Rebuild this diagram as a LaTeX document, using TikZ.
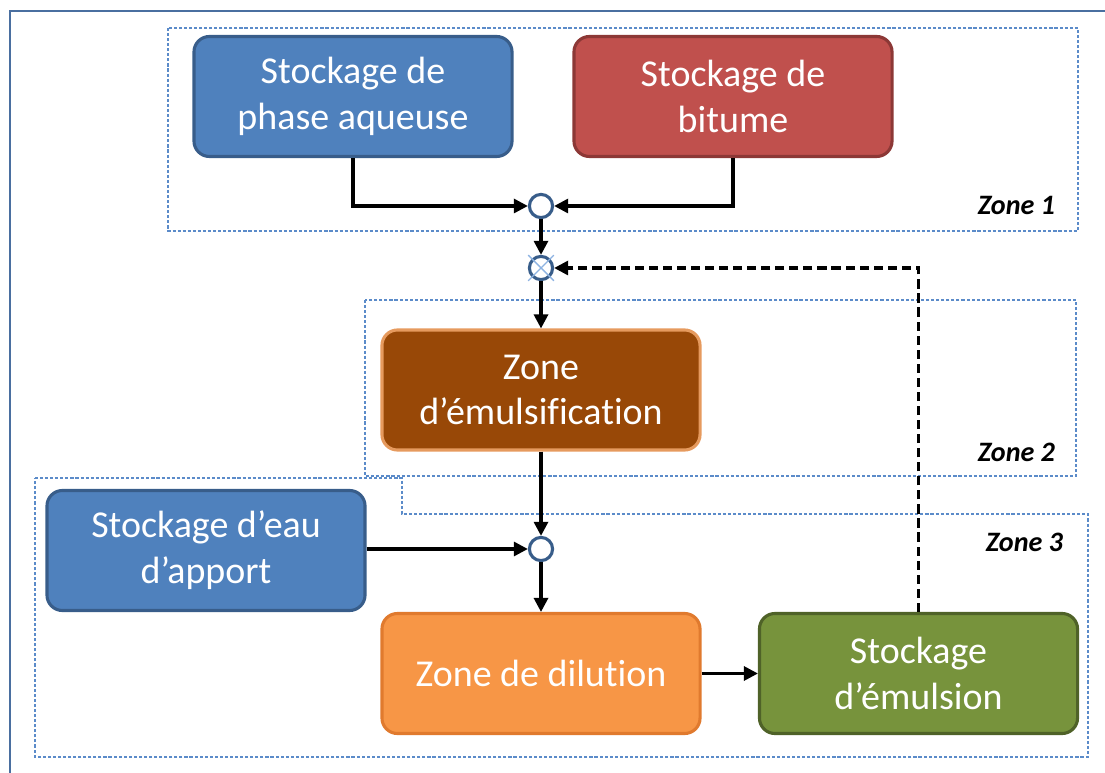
\documentclass[tikz,border=0pt]{standalone}
\usepackage{fontspec}
\setmainfont{Carlito}[Ligatures={TeX,NoCommon}]
\usetikzlibrary{arrows.meta}
\definecolor{bluefill}{HTML}{4F81BD}
\definecolor{blueline}{HTML}{385D8A}
\definecolor{redfill}{HTML}{C0504D}
\definecolor{redline}{HTML}{8C3836}
\definecolor{brownfill}{HTML}{984807}
\definecolor{brownline}{HTML}{E69A5E}
\definecolor{orangefill}{HTML}{F79646}
\definecolor{orangeline}{HTML}{E07A2E}
\definecolor{greenfill}{HTML}{77933C}
\definecolor{greenline}{HTML}{4F6228}
\definecolor{zoneline}{HTML}{5B8BC9}
\definecolor{frameline}{HTML}{4A6FA0}
\definecolor{crossline}{HTML}{8DB3E2}
\tikzset{
    mybox/.style = {rounded corners=11pt, line width=2.2pt, align=center, minimum width=7.95cm, minimum height=3.0cm,
                    font=\fontsize{27}{32.5}\selectfont, text=white},
    myboxb/.style = {mybox, fill=bluefill, draw=blueline},
    myboxr/.style = {mybox, fill=redfill, draw=redline},
    myboxn/.style = {mybox, fill=brownfill, draw=brownline},
    myboxo/.style = {mybox, fill=orangefill, draw=orangeline},
    myboxg/.style = {mybox, fill=greenfill, draw=greenline},
    myjoin/.style = {circle, line width=2.2pt, draw=blueline, fill=white, minimum size=0.58cm, inner sep=0},
    zonebox/.style = {zoneline, line width=0.8pt, dash pattern=on 2.2pt off 1.4pt},
    zonelabel/.style = {anchor=east, font=\fontsize{20}{24}\selectfont\bfseries\itshape},
    edgea/.style = {line width=2.2pt, black, -{Triangle[length=10pt,width=10pt]}},
    edged/.style = {edgea, dash pattern=on 6.5pt off 3.5pt},
    edgex/.style = {line width=1pt, crossline, shorten <=-3.5pt, shorten >=-3.5pt}
}
\begin{document}
\begin{tikzpicture}[x=0.025cm,y=-0.025cm]
\useasboundingbox (0,0) rectangle (1105,773);
% frame
\draw[frameline, line width=1.4pt] (10,773) -- (10,11) -- (1105,11);

% zones
\draw[zonebox] (168,28) rectangle (1078,231);
\draw[zonebox] (365,300) rectangle (1076,476);
\draw[zonebox] (35,478) -- (402,478) -- (402,514) -- (1088,514) -- (1088,757) -- (35,757) -- cycle;
\node[zonelabel] at (1060,205) (z1) {Zone 1};
\node[zonelabel] at (1060,452) (z2) {Zone 2};
\node[zonelabel] at (1068,542) (z3) {Zone 3};

% boxes
\node[myboxb] at (353,96.5) (aq) {Stockage de\\phase aqueuse};
\node[myboxr] at (733,96.5) (bit) {Stockage de\\bitume};
\node[myboxn] at (541,390) (emu) {Zone\\d’émulsification};
\node[myboxb] at (206,550.5) (eau) {Stockage d’eau\\d’apport};
\node[myboxo] at (541,673.5) (dil) {Zone de dilution};
\node[myboxg] at (918.5,673.5) (sto) {Stockage\\d’émulsion};

% junctions
\node[myjoin] at (541,206) (j1) {};
\node[myjoin] at (541,268) (jx) {};
\node[myjoin] at (541,549) (j2) {};
\draw[edgex] (jx.north west) -- (jx.south east);
\draw[edgex] (jx.south west) -- (jx.north east);

\draw[edgea] (aq.south) |- (j1);
\draw[edgea] (bit.south) |- (j1);
\draw[edgea] (j1) -- (jx);
\draw[edgea] (jx) -- (emu);
\draw[edgea] (emu) -- (j2);
\draw[edgea] (eau.east |- j2) -- (j2);
\draw[edgea] (j2) -- (dil);
\draw[edgea] (dil) -- (sto);
\draw[edged] (sto.north) |- (jx);

\end{tikzpicture}
\end{document}
